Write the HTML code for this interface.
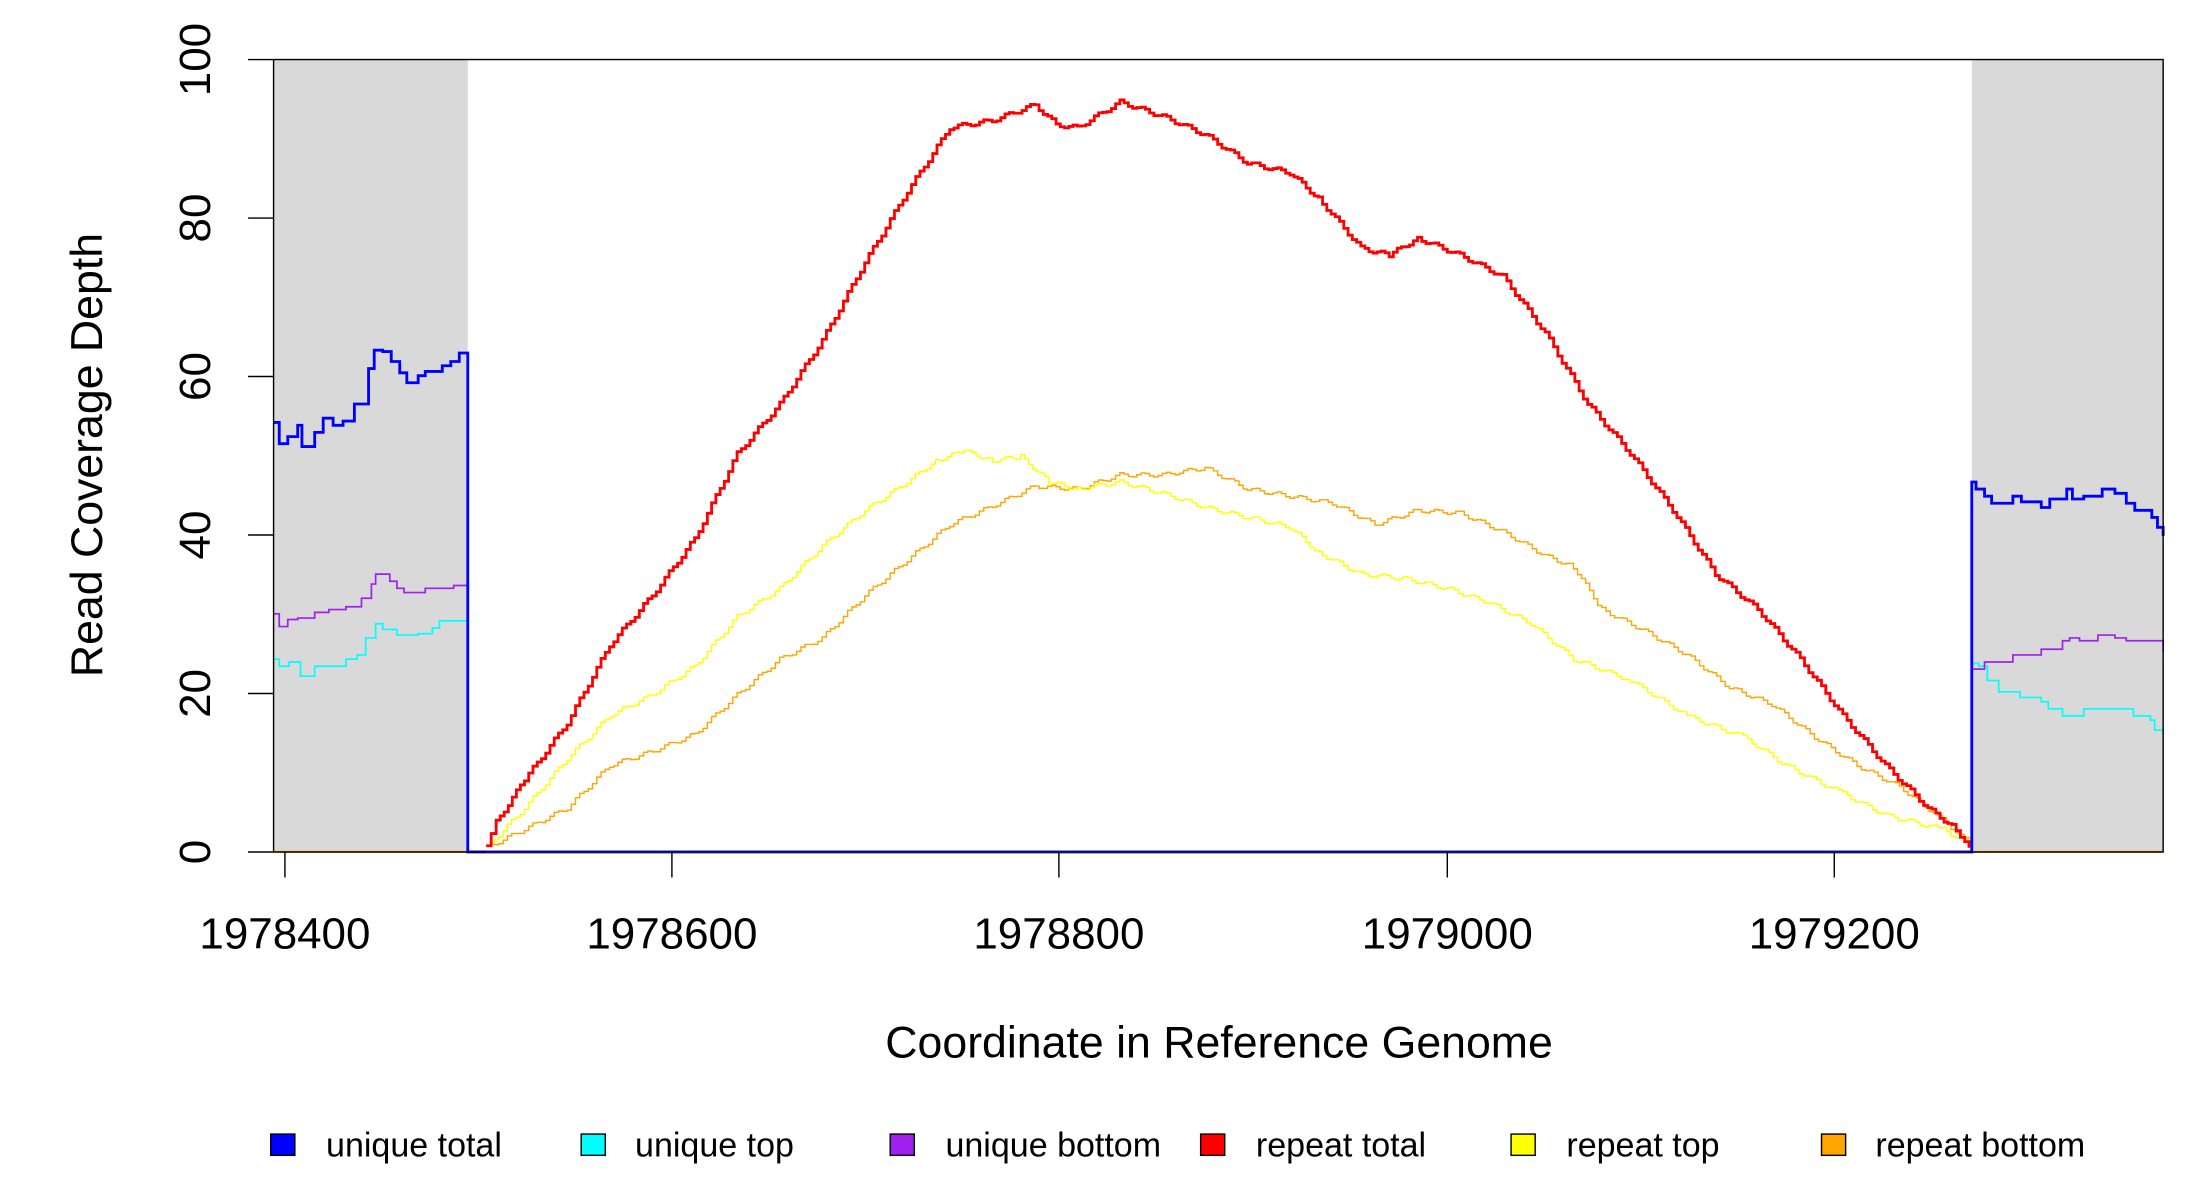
<!DOCTYPE html>
<html><head><meta charset="utf-8"><style>html,body{margin:0;padding:0;background:#fff}svg{display:block}</style></head>
<body>
<svg id="s" xmlns="http://www.w3.org/2000/svg" width="2200" height="1200" viewBox="0 0 1552 846.5" preserveAspectRatio="none" font-family="Liberation Sans, sans-serif">
<rect x="193" y="42" width="137" height="559" fill="#d9d9d9"/>
<rect x="1391" y="42" width="135" height="559" fill="#d9d9d9"/>
<g id="lines" fill="none"></g>
<rect x="193" y="42" width="1333" height="559" fill="none" stroke="#000" stroke-width="1"/>
<g stroke="#000" stroke-width="1">
<line x1="175" y1="601" x2="193" y2="601"/><line x1="175" y1="489.2" x2="193" y2="489.2"/><line x1="175" y1="377.4" x2="193" y2="377.4"/><line x1="175" y1="265.6" x2="193" y2="265.6"/><line x1="175" y1="153.8" x2="193" y2="153.8"/><line x1="175" y1="42" x2="193" y2="42"/>
<line x1="201" y1="601" x2="201" y2="619"/><line x1="474" y1="601" x2="474" y2="619"/><line x1="747" y1="601" x2="747" y2="619"/><line x1="1021" y1="601" x2="1021" y2="619"/><line x1="1294" y1="601" x2="1294" y2="619"/>
</g>
<g font-size="31" text-anchor="middle">
<text transform="translate(148,601) rotate(-90)">0</text>
<text transform="translate(148,489.2) rotate(-90)">20</text>
<text transform="translate(148,377.4) rotate(-90)">40</text>
<text transform="translate(148,265.6) rotate(-90)">60</text>
<text transform="translate(148,153.8) rotate(-90)">80</text>
<text transform="translate(148,42) rotate(-90)">100</text>
<text x="201" y="669">1978400</text><text x="474" y="669">1978600</text><text x="747" y="669">1978800</text><text x="1021" y="669">1979000</text><text x="1294" y="669">1979200</text>
<text x="860" y="746" font-size="31.5">Coordinate in Reference Genome</text>
<text transform="translate(72,321) rotate(-90)" font-size="31.5">Read Coverage Depth</text>
</g>
<g font-size="24" stroke="#000" stroke-width="1">
<rect x="191" y="800" width="17" height="15" fill="#0000ff"/>
<rect x="410" y="800" width="17" height="15" fill="#00ffff"/>
<rect x="628" y="800" width="17" height="15" fill="#a020f0"/>
<rect x="847" y="800" width="17" height="15" fill="#ff0000"/>
<rect x="1066" y="800" width="17" height="15" fill="#ffff00"/>
<rect x="1285" y="800" width="17" height="15" fill="#ffa500"/>
<g stroke="none" fill="#000">
<text x="230" y="816">unique total</text><text x="448" y="816">unique top</text><text x="667" y="816">unique bottom</text><text x="886" y="816">repeat total</text><text x="1105" y="816">repeat top</text><text x="1323" y="816">repeat bottom</text>
</g></g>
</svg>
<script>
function step(p){var d="M"+p[0][0]+","+p[0][1];for(var i=1;i<p.length;i++){d+="H"+p[i][0]+"V"+p[i][1];}return d;}
function smooth(p,n){var out=[];for(var i=0;i<p.length-1;i++){var a=p[i],b=p[i+1];var k=Math.max(1,Math.round((b[0]-a[0])/n));for(var j=0;j<k;j++){var t=j/k;var y=a[1]+(b[1]-a[1])*t+(Math.sin((a[0]+j*n)*1.7)*1.5);out.push([(a[0]+(b[0]-a[0])*t).toFixed(1),y.toFixed(1)]);}}out.push(p[p.length-1]);return out;}
var red=[[343,598],[350,580],[370,550],[400,510],[430,455],[460,420],[490,380],[520,320],[550,285],[580,240],[610,185],[640,135],[670,90],[700,85],[730,74],[745,88],[760,90],[790,72],[820,82],[850,95],[880,115],[910,122],[930,140],[960,175],[980,180],[1000,168],[1030,180],[1060,195],[1090,235],[1120,285],[1150,320],[1180,360],[1210,405],[1240,430],[1270,465],[1300,505],[1330,540],[1360,570],[1380,585],[1389,598]];
var yel=[[343,598],[370,570],[400,535],[430,505],[460,490],[490,470],[520,435],[550,415],[580,385],[610,360],[640,340],[660,325],[680,318],[700,325],[720,322],[740,340],[760,345],[790,340],[820,348],[850,358],[880,365],[910,372],[930,390],[960,405],[990,408],[1020,415],[1050,425],[1080,440],[1110,465],[1150,480],[1190,505],[1230,520],[1260,540],[1300,560],[1330,575],[1370,585],[1389,595]];
var ora=[[343,598],[370,585],[400,570],[430,540],[460,530],[490,518],[520,490],[550,465],[580,450],[610,420],[640,395],[670,370],[700,357],[730,343],[760,345],[790,335],[820,335],[850,330],[880,345],[910,350],[940,355],[970,370],[1000,360],[1030,362],[1060,375],[1090,392],[1110,400],[1130,430],[1160,445],[1190,462],[1220,485],[1250,497],[1280,520],[1310,540],[1340,555],[1370,578],[1389,595]];
var blue=[[193,298],[197,313],[203,308],[210,300],[213,315],[222,305],[228,295],[235,300],[242,297],[250,285],[256,285],[260,260],[264,247],[270,248],[276,255],[282,263],[287,270],[295,265],[300,262],[306,262],[312,258],[318,255],[324,249],[330,249],[330,601],[1391,601],[1391,340],[1394,345],[1400,350],[1405,355],[1420,350],[1426,354],[1440,358],[1446,352],[1458,345],[1462,352],[1470,350],[1483,345],[1492,348],[1500,355],[1506,360],[1518,365],[1522,372],[1526,378]];
var pur=[[193,433],[197,442],[203,437],[210,436],[222,432],[232,430],[244,428],[255,422],[262,412],[265,405],[275,410],[280,415],[285,418],[300,415],[320,413],[330,410],[330,601],[1391,601],[1391,472],[1400,467],[1420,462],[1440,458],[1455,452],[1460,450],[1467,452],[1480,448],[1492,450],[1500,452],[1526,460]];
var cy=[[193,465],[197,470],[204,467],[212,477],[222,470],[232,470],[244,465],[252,462],[258,450],[265,440],[270,444],[280,448],[295,447],[305,443],[310,438],[330,438],[330,601],[1391,601],[1391,468],[1396,470],[1402,480],[1410,488],[1425,492],[1440,495],[1445,500],[1455,505],[1470,500],[1500,500],[1505,505],[1517,508],[1520,515],[1526,518]];
var g=document.getElementById("lines");
function add(d,c,w){var e=document.createElementNS("http://www.w3.org/2000/svg","path");e.setAttribute("d",d);e.setAttribute("stroke",c);e.setAttribute("stroke-width",w);g.appendChild(e);}
add("M193,601H1526","#ffa500",1.5);
add(step(smooth(ora,3)),"#ffa500",1);
add(step(smooth(yel,3)),"#ffff00",1);
add(step(smooth(red,3)),"#ff0000",2);
add(step(cy),"#00ffff",1.2);
add(step(pur),"#a020f0",1.2);
add(step(blue),"#0000ff",2);
add("M343,601H1389","#4040ff",1.5);
</script>
</body></html>
